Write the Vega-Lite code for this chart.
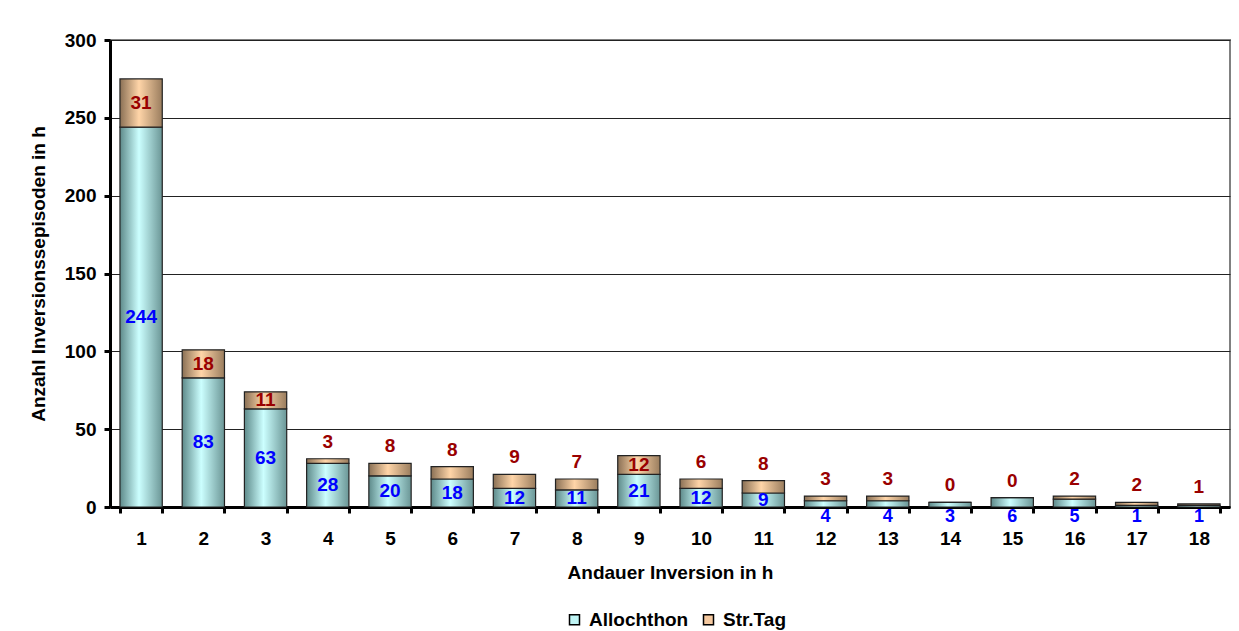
{
  "$schema": "https://vega.github.io/schema/vega-lite/v6.json",
  "autosize": {"type": "none"},
  "width": 1120,
  "height": 467,
  "padding": {"left": 110, "top": 40, "right": 9, "bottom": 124},
  "background": "white",
  "config": {
    "font": "Liberation Sans",
    "view": {"stroke": "#808080", "strokeWidth": 2},
    "axis": {"labelFont": "Liberation Sans", "titleFont": "Liberation Sans", "labelFontWeight": "bold", "titleFontWeight": "bold", "labelFontSize": 19, "titleFontSize": 19, "labelColor": "#000", "titleColor": "#000"}
  },
  "data": {
    "values": [
      {"h": 1, "typ": "Allochthon", "n": 244}, {"h": 1, "typ": "Str.Tag", "n": 31},
      {"h": 2, "typ": "Allochthon", "n": 83}, {"h": 2, "typ": "Str.Tag", "n": 18},
      {"h": 3, "typ": "Allochthon", "n": 63}, {"h": 3, "typ": "Str.Tag", "n": 11},
      {"h": 4, "typ": "Allochthon", "n": 28}, {"h": 4, "typ": "Str.Tag", "n": 3},
      {"h": 5, "typ": "Allochthon", "n": 20}, {"h": 5, "typ": "Str.Tag", "n": 8},
      {"h": 6, "typ": "Allochthon", "n": 18}, {"h": 6, "typ": "Str.Tag", "n": 8},
      {"h": 7, "typ": "Allochthon", "n": 12}, {"h": 7, "typ": "Str.Tag", "n": 9},
      {"h": 8, "typ": "Allochthon", "n": 11}, {"h": 8, "typ": "Str.Tag", "n": 7},
      {"h": 9, "typ": "Allochthon", "n": 21}, {"h": 9, "typ": "Str.Tag", "n": 12},
      {"h": 10, "typ": "Allochthon", "n": 12}, {"h": 10, "typ": "Str.Tag", "n": 6},
      {"h": 11, "typ": "Allochthon", "n": 9}, {"h": 11, "typ": "Str.Tag", "n": 8},
      {"h": 12, "typ": "Allochthon", "n": 4}, {"h": 12, "typ": "Str.Tag", "n": 3},
      {"h": 13, "typ": "Allochthon", "n": 4}, {"h": 13, "typ": "Str.Tag", "n": 3},
      {"h": 14, "typ": "Allochthon", "n": 3}, {"h": 14, "typ": "Str.Tag", "n": 0},
      {"h": 15, "typ": "Allochthon", "n": 6}, {"h": 15, "typ": "Str.Tag", "n": 0},
      {"h": 16, "typ": "Allochthon", "n": 5}, {"h": 16, "typ": "Str.Tag", "n": 2},
      {"h": 17, "typ": "Allochthon", "n": 1}, {"h": 17, "typ": "Str.Tag", "n": 2},
      {"h": 18, "typ": "Allochthon", "n": 1}, {"h": 18, "typ": "Str.Tag", "n": 1}
    ]
  },
  "transform": [
    {"stack": "n", "groupby": ["h"], "sort": [{"field": "typ", "order": "ascending"}], "as": ["n0", "n1"]},
    {"calculate": "(datum.n0 + datum.n1) / 2", "as": "mid"}
  ],
  "encoding": {
    "x": {
      "field": "h", "type": "ordinal",
      "scale": {"paddingInner": 0.32, "paddingOuter": 0.16},
      "axis": {
        "title": "Andauer Inversion in h", "labelAngle": 0, "domainColor": "#000", "domainWidth": 3,
        "tickBand": "extent", "tickColor": "#000", "tickWidth": 3, "tickSize": 6, "labelPadding": 16, "titlePadding": 15
      }
    }
  },
  "layer": [
    {
      "transform": [{"filter": "datum.typ == 'Allochthon'"}],
      "mark": {"type": "bar", "stroke": "#222", "strokeWidth": 1.2,
        "fill": {"gradient": "linear", "x1": 0, "x2": 1, "y1": 0, "y2": 0, "stops": [
          {"offset": 0, "color": "#5E8A8A"}, {"offset": 0.45, "color": "#CCFFFF"}, {"offset": 1, "color": "#6B9696"}]}},
      "encoding": {
        "y": {"field": "n0", "type": "quantitative", "scale": {"domain": [0, 300], "nice": false},
          "axis": {"title": "Anzahl Inversionssepisoden in h", "values": [0, 50, 100, 150, 200, 250, 300],
            "grid": true, "gridColor": "#222", "gridWidth": 1, "domainColor": "#000", "domainWidth": 3,
            "tickColor": "#000", "tickWidth": 3, "tickSize": 6, "labelPadding": 8, "titlePadding": 16}},
        "y2": {"field": "n1"}
      }
    },
    {
      "transform": [{"filter": "datum.typ == 'Str.Tag'"}],
      "mark": {"type": "bar", "stroke": "#222", "strokeWidth": 1.2,
        "fill": {"gradient": "linear", "x1": 0, "x2": 1, "y1": 0, "y2": 0, "stops": [
          {"offset": 0, "color": "#8A7055"}, {"offset": 0.45, "color": "#FFD5A8"}, {"offset": 1, "color": "#9A7D5E"}]}},
      "encoding": {
        "y": {"field": "n0", "type": "quantitative"},
        "y2": {"field": "n1"}
      }
    },
    {
      "mark": {"type": "square", "opacity": 0, "size": 1},
      "encoding": {
        "y": {"field": "n0", "type": "quantitative"},
        "color": {"field": "typ", "type": "nominal",
          "scale": {"domain": ["Allochthon", "Str.Tag"], "range": ["#BFF5F5", "#F5C9A0"]},
          "legend": {"title": null, "orient": "none", "legendX": 455, "legendY": 570, "direction": "horizontal", "symbolType": "square",
            "symbolSize": 100, "symbolOpacity": 1, "symbolStrokeColor": "#000", "symbolStrokeWidth": 1.5,
            "labelFont": "Liberation Sans", "labelFontSize": 19, "labelFontWeight": "bold", "labelColor": "#000",
            "columnPadding": 10, "labelOffset": 5, "padding": 0}}
      }
    },
    {
      "transform": [{"filter": "datum.typ == 'Allochthon' && datum.n >= 9"}],
      "mark": {"type": "text", "baseline": "middle", "align": "center", "fontSize": 19, "fontWeight": "bold", "color": "#0000FF"},
      "encoding": {"y": {"field": "mid", "type": "quantitative"}, "text": {"field": "n", "type": "quantitative"}}
    },
    {
      "transform": [{"filter": "datum.typ == 'Allochthon' && datum.n < 9"}],
      "mark": {"type": "text", "baseline": "middle", "align": "center", "fontSize": 18, "fontWeight": "bold", "color": "#0000FF", "dy": 10},
      "encoding": {"y": {"field": "n0", "type": "quantitative"}, "text": {"field": "n", "type": "quantitative"}}
    },
    {
      "transform": [{"filter": "datum.typ == 'Str.Tag' && datum.n >= 10"}],
      "mark": {"type": "text", "baseline": "middle", "align": "center", "fontSize": 19, "fontWeight": "bold", "color": "#990000"},
      "encoding": {"y": {"field": "mid", "type": "quantitative"}, "text": {"field": "n", "type": "quantitative"}}
    },
    {
      "transform": [{"filter": "datum.typ == 'Str.Tag' && datum.n < 10"}],
      "mark": {"type": "text", "baseline": "middle", "align": "center", "fontSize": 19, "fontWeight": "bold", "color": "#990000", "dy": -17},
      "encoding": {"y": {"field": "n1", "type": "quantitative"}, "text": {"field": "n", "type": "quantitative"}}
    }
  ]
}
